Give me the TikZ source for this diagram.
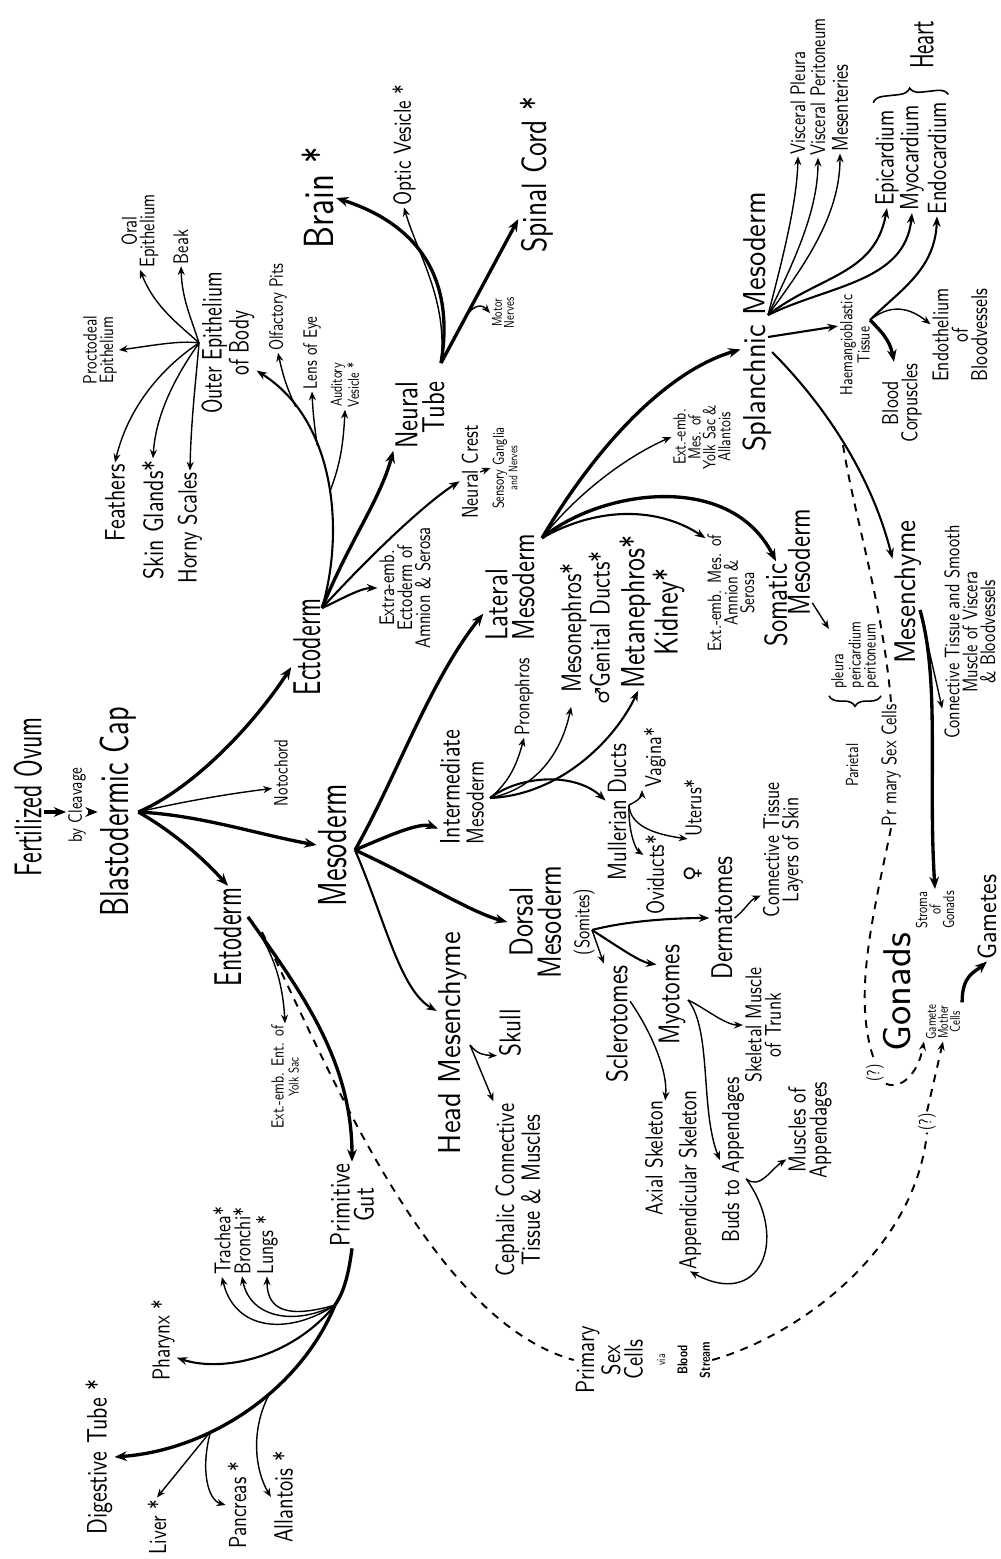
\documentclass[tikz,border=0pt]{standalone}
\usepackage{fontspec}
\setmainfont{lmsans10-regular.otf}[BoldFont=lmsans10-bold.otf,FakeStretch=0.78]
\newfontfamily\sA{lmsans10-regular.otf}[BoldFont=lmsans10-bold.otf,FakeStretch=0.62]
\newfontfamily\sB{lmsans10-regular.otf}[BoldFont=lmsans10-bold.otf,FakeStretch=0.7]
\newfontfamily\sC{lmsans10-regular.otf}[BoldFont=lmsans10-bold.otf,FakeStretch=0.9]
\newfontfamily\sD{lmsans10-regular.otf}[BoldFont=lmsans10-bold.otf,FakeStretch=1.0]
\newfontfamily\symf{DejaVu Sans}
\usetikzlibrary{arrows.meta}
\usetikzlibrary{decorations.pathreplacing}
\newcommand{\fz}[1]{\fontsize{#1}{\fpeval{0.85*#1}}\selectfont}

\begin{document}
\begin{tikzpicture}[x=0.02cm,y=-0.02cm,
		lab/.style={rotate=90,inner sep=1pt,align=center},
		thk/.style={line width=1.9pt,-{Stealth[length=7pt,width=5.5pt]}},
		med/.style={line width=1.2pt,-{Stealth[length=6pt,width=4.5pt]}},
		thn/.style={line width=0.8pt,-{Stealth[length=5pt,width=4pt]}},
		dsh/.style={line width=1.1pt,dash pattern=on 4.5pt off 4pt},
		brc/.style={line width=0.9pt,decorate,decoration={brace,amplitude=6pt}}]
	\useasboundingbox (0,0) rectangle (1001,1559);
	\fill[white] (0,0) rectangle (1001,1559);

	\node[lab,font=\sA\fz{22}] (fo) at (28,797) {Fertilized Ovum};
	\node[lab,font=\fz{11}] (cleav) at (77,805) {by Cleavage};
	\node[lab,font=\sB\fz{23}] (bc) at (118,812) {Blastodermic Cap};
	\node[lab,font=\sA\fz{22}] (ecto) at (307,647) {Ectoderm};
	\node[lab,font=\sB\fz{23}] (meso) at (333,845) {Mesoderm};
	\node[lab,font=\sA\fz{22}] (endo) at (228,937) {Entoderm};
	\node[lab,font=\fz{11}] (noto) at (281,773) {Notochord};

	\node[lab,font=\sB\fz{16}] (outer) at (228,343) {Outer Epithelium\\of Body};
	\node[lab,font=\fz{11}] (procto) at (100,350) {Proctodeal\\Epithelium};
	\node[lab,font=\fz{12}] (oral) at (140,231) {Oral\\Epithelium};
	\node[lab,font=\fz{12}] (beak) at (181,247) {Beak};
	\node[lab,font=\fz{16}] (feath) at (115,503) {Feathers};
	\node[lab,font=\fz{16}] (skin) at (153,520) {Skin Glands*};
	\node[lab,font=\fz{15}] (horny) at (190,528) {Horny Scales};
	\node[lab,font=\fz{11}] (olf) at (278,307) {Olfactory Pits};
	\node[lab,font=\fz{11}] (lens) at (312,353) {Lens of Eye};
	\node[lab,font=\fz{9}] (audi) at (345,385) {Auditory\\Vesicle *};
	\node[lab,align=right,font=\fz{18}] (ntube) at (420,415) {Neural\\Tube};
	\node[lab,font=\fz{24}] (brain) at (318,198) {Brain *};
	\node[lab,font=\fz{14}] (optic) at (404,145) {Optic Vesicle *};
	\node[lab,font=\fz{20}] (spinal) at (537,175) {Spinal Cord *};
	\node[lab,font=\fz{8}] (motor) at (503,313) {Motor\\Nerves};
	\node[lab,font=\fz{13}] (ncrest) at (470,472) {Neural Crest};
	\node[lab,font=\fz{9}] (sens) at (505,468) {Sensory Ganglia\\{\fz{7}and Nerves}};
	\node[lab,font=\fz{12}] (extecto) at (405,588) {Extra-emb.\\Ectoderm of\\Amnion \& Serosa};

	\node[lab,font=\fz{10}] (extent) at (285,1077) {Ext.-emb. Ent. of\\{\fz{8}Yolk Sac}};
	\node[lab,font=\fz{16}] (pgut) at (352,1205) {Primitive\\Gut};
	\node[lab,font=\fz{13}] (trach) at (222,1241) {Trachea*};
	\node[lab,font=\fz{13}] (bronch) at (242,1241) {Bronchi*};
	\node[lab,font=\fz{13}] (lungs) at (267,1245) {Lungs *};
	\node[lab,font=\fz{14}] (phar) at (163,1340) {Pharynx *};
	\node[lab,font=\fz{16}] (dig) at (99,1457) {Digestive Tube *};
	\node[lab,font=\fz{14}] (liver) at (157,1527) {Liver *};
	\node[lab,font=\fz{14}] (panc) at (237,1505) {Pancreas *};
	\node[lab,font=\fz{15}] (allan) at (283,1497) {Allantois *};

	\node[lab,align=left,font=\fz{18}] (lat) at (510,587) {Lateral\\Mesoderm};
	\node[lab,align=left,font=\fz{16}] (inter) at (462,787) {Intermediate\\{\fz{14}Mesoderm}};
	\node[lab,font=\fz{19}] (dors) at (552,922) {Dorsal\\Mesoderm\\{\fz{12}(Somites)}};
	\node[lab,font=\sC\fz{18}] (head) at (453,1043) {Head Mesenchyme};
	\node[lab,font=\fz{17}] (skull) at (510,1033) {Skull};
	\node[lab,font=\fz{15}] (ceph) at (518,1190) {Cephalic Connective\\Tissue \& Muscles};

	\node[lab,font=\fz{12}] (pron) at (524,697) {Pronephros};
	\node[lab,font=\fz{16}] (mesoneph) at (585,628) {Mesonephros*\\{\symf\fz{11}♂}Genital Ducts*};
	\node[lab,font=\fz{19}] (metaneph) at (652,612) {Metanephros*\\Kidney*};
	\node[lab,font=\fz{15}] (mull) at (617,812) {Mullerian Ducts};
	\node[lab,font=\fz{13}] (vag) at (655,758) {Vagina*};
	\node[lab,font=\fz{13}] (uter) at (693,808) {Uterus*};
	\node[lab,font=\fz{14}] (ovi) at (655,875) {Oviducts*};
	\node[lab,font=\fz{12}] (fem) at (693,874) {\symf ♀};

	\node[lab,font=\fz{17}] (scler) at (617,1024) {Sclerotomes};
	\node[lab,font=\fz{17}] (myo) at (672,995) {Myotomes};
	\node[lab,font=\fz{17}] (derm) at (722,918) {Dermatomes};
	\node[lab,font=\fz{13}] (ctskin) at (783,850) {Connective Tissue\\Layers of Skin};
	\node[lab,font=\fz{14}] (axial) at (654,1158) {Axial Skeleton};
	\node[lab,font=\fz{14}] (appsk) at (690,1180) {Appendicular Skeleton};
	\node[lab,font=\fz{13}] (skmus) at (763,1025) {Skeletal Muscle\\of Trunk};
	\node[lab,font=\fz{14}] (buds) at (733,1160) {Buds to Appendages};
	\node[lab,font=\fz{14}] (musapp) at (810,1130) {Muscles of\\Appendages};

	\node[lab,font=\sC\fz{18}] (splan) at (757,322) {Splanchnic Mesoderm};
	\node[lab,font=\fz{10}] (yolk) at (702,437) {Ext.-emb.\\Mes. of\\Yolk Sac \&\\Allantois};
	\node[lab,font=\fz{11}] (amn) at (731,593) {Ext.-emb. Mes. of\\Amnion \&\\Serosa};
	\node[lab,font=\fz{18}] (soma) at (776,605) {Somatic};
	\node[lab,font=\fz{18}] (somb) at (799,562) {Mesoderm};
	\node[lab,font=\fz{12}] (vpl) at (798,103) {Visceral Pleura};
	\node[lab,font=\fz{12}] (vper) at (818,87) {Visceral Peritoneum};
	\node[lab,font=\fz{13}] (mesent) at (840,108) {Mesenteries};
	\node[lab,font=\fz{15}] (epi) at (887,158) {Epicardium};
	\node[lab,font=\fz{15}] (myoc) at (912,158) {Myocardium};
	\node[lab,font=\fz{15}] (endoc) at (937,158) {Endocardium};
	\node[lab,font=\sA\fz{19}] (heart) at (922,45) {Heart};
	\node[lab,font=\fz{10}] (haem) at (855,345) {Haemangioblastic\\Tissue};
	\node[lab,font=\fz{13}] (bloodc) at (902,403) {Blood\\Corpuscles};
	\node[lab,font=\fz{13}] (endoth) at (960,335) {Endothelium\\of\\Bloodvessels};
	\node[lab,font=\sC\fz{17}] (mesench) at (908,592) {Mesenchyme};
	\node[lab,font=\fz{12}] (ctsmooth) at (970,632) {Connective Tissue and Smooth\\Muscle of Viscera\\\& Bloodvessels};
	\node[lab,align=left,font=\fz{10}] (pleura) at (855,655) {pleura\\pericardium\\peritoneum};
	\node[lab,font=\fz{10}] (pariet) at (852,765) {Parietal};
	\node[lab,font=\fz{12}] (psc) at (891,765) {Pr mary Sex Cells};
	\node[lab,font=\sD\fz{22}] (gonads) at (897,992) {Gonads};
	\node[lab,font=\fz{9}] (stroma) at (935,910) {Stroma\\of\\Gonads};
	\node[lab,font=\fz{8}] (gmc) at (943,1022) {Gamete\\Mother\\Cells};
	\node[lab,font=\sC\fz{15}] (gametes) at (987,917) {Gametes};
	\node[lab,font=\fz{10}] (q1) at (875,1073) {(?)};
	\node[lab,font=\fz{10}] (q2) at (927,1122) {(?)};
	\node[lab,font=\fz{15}] (prim) at (643,1360) {Primary\\Sex\\Cells\\{\fz{7}via}\\{\fz{8}\bfseries Blood}\\{\fz{8}\bfseries Stream}};

	\coordinate (ecto-o) at (322,608);
	\coordinate (endo-o) at (248,917);
	\coordinate (endo-d) at (262,932);
	\coordinate (meso-o) at (355,850);
	\coordinate (outer-o) at (199,343);
	\coordinate (ntube-o) at (441,363);
	\coordinate (head-o) at (470,1045);
	\coordinate (pg-o) at (335,1305);
	\coordinate (lat-o) at (542,538);
	\coordinate (int-o) at (490,798);
	\coordinate (mull-o) at (629,805);
	\coordinate (dors-o) at (592,930);
	\coordinate (myo-o) at (688,1000);
	\coordinate (spl-o) at (768,315);
	\coordinate (spl-h) at (768,337);
	\coordinate (spl-m) at (772,352);
	\coordinate (haem-o) at (870,320);
	\coordinate (mes-o) at (920,610);
	\coordinate (psc-top) at (843,445);

	\draw[thk] (fo.south |- bc.north) -- (cleav.north |- bc.north);
	\draw[thk] (cleav.south |- bc.north) -- (bc.north);
	\draw[thk] (bc.south) .. controls (190,790) and (250,730) .. (ecto.142);
	\draw[thn] (bc.south) .. controls (190,800) and (235,793) .. (noto.150);
	\draw[thk] (bc.south) .. controls (200,815) and (260,835) .. (meso.north);
	\draw[thk] (bc.south) .. controls (170,830) and (200,855) .. (endo.east);

	\draw[med] (ecto-o) .. controls (345,530) and (335,420) .. (outer.226) coordinate[pos=0.45] (e-aud) coordinate[pos=0.63] (e-lens) coordinate[pos=0.8] (e-olf);
	\draw[thn] (e-aud) .. controls (338,470) and (343,452) .. (audi.west);
	\draw[thn] (e-lens) .. controls (315,430) and (313,415) .. (lens.west);
	\draw[thn] (e-olf) .. controls (288,390) and (284,380) .. (olf.west);
	\draw[thk] (ecto-o) .. controls (350,540) and (380,500) .. (ntube.north west);
	\draw[med] (ecto-o) .. controls (380,545) and (430,500) .. (ncrest.132);
	\draw[med] (ecto-o) .. controls (340,600) and (360,588) .. (extecto.north);
	\draw[thn] (ncrest.south) -- (sens.north);

	\draw[thn] (outer-o) .. controls (180,340) and (150,346) .. (procto.south);
	\draw[thn] (outer-o) .. controls (180,325) and (155,308) .. (oral.west);
	\draw[thn] (outer-o) .. controls (192,320) and (182,300) .. (beak.west);
	\draw[thn] (outer-o) .. controls (170,362) and (130,400) .. (feath.east);
	\draw[thn] (outer-o) .. controls (180,370) and (156,410) .. (skin.east);
	\draw[thn] (outer-o) .. controls (196,380) and (191,420) .. (horny.east);

	\draw[thk] (ntube-o) .. controls (455,280) and (420,225) .. (brain.south);
	\draw[thn] (ntube-o) .. controls (448,300) and (418,255) .. (optic.west);
	\draw[thk] (ntube-o) -- (spinal.157) coordinate[pos=0.3] (n-mot);
	\draw[thn] (n-mot) .. controls (470,308) and (480,302) .. (motor.north);

	\draw[thn] (endo-o) .. controls (265,940) and (282,968) .. (extent.east);
	\draw[thk] (endo-o) .. controls (300,990) and (352,1060) .. (pgut.east);
	\draw[dsh] (endo-d) .. controls (330,1070) and (430,1320) .. (prim.north);

	\draw[line width=1.9pt] (pgut.west) .. controls (348,1280) and (342,1295) .. (pg-o);
	\draw[thn] (pg-o) .. controls (290,1335) and (235,1332) .. (trach.west);
	\draw[thn] (pg-o) .. controls (295,1326) and (250,1318) .. (bronch.west);
	\draw[thn] (pg-o) .. controls (290,1318) and (267,1312) .. (lungs.west);
	\draw[med] (pg-o) .. controls (290,1360) and (220,1372) .. (phar.218);
	\draw[thk] (pg-o) .. controls (300,1390) and (210,1450) .. (dig.south) coordinate[pos=0.4] (d-all) coordinate[pos=0.65] (d-liv);
	\draw[thn] (d-liv) -- (liver.east);
	\draw[thn] (d-liv) .. controls (200,1470) and (208,1500) .. (panc.north);
	\draw[thn] (d-all) .. controls (250,1430) and (255,1470) .. (allan.north);

	\draw[thk] (meso-o) .. controls (395,780) and (430,680) .. (lat.135);
	\draw[thk] (meso-o) .. controls (390,835) and (420,822) .. (inter.150);
	\draw[thk] (meso-o) .. controls (420,880) and (470,912) .. (dors.north);
	\draw[med] (meso-o) .. controls (385,920) and (400,990) .. (head.27);
	\draw[thn] (head-o) .. controls (478,1055) and (485,1055) .. (skull.150);
	\draw[thn] (head-o) -- (ceph.north east);

	\draw[thk] (lat-o) .. controls (600,440) and (670,370) .. (splan.149);
	\draw[thn] (lat-o) .. controls (580,490) and (630,455) .. (yolk.north);
	\draw[med] (lat-o) .. controls (600,505) and (660,508) .. (amn.25);
	\draw[thk] (lat-o) .. controls (600,490) and (730,470) .. (soma.east);

	\draw[thn] (int-o) .. controls (505,785) and (515,772) .. (pron.west);
	\draw[thn] (int-o) .. controls (530,790) and (560,760) .. (mesoneph.170);
	\draw[med] (int-o) .. controls (560,795) and (615,740) .. (metaneph.170);
	\draw[med] (int-o) .. controls (520,775) and (575,772) .. (mull.45);
	\draw[thn] (mull-o) .. controls (640,800) and (642,795) .. (vag.north west);
	\draw[thn] (mull-o) .. controls (630,828) and (660,835) .. (uter.170);
	\draw[thn] (mull-o) .. controls (628,832) and (636,850) .. (ovi.30);

	\draw[med] (dors-o) .. controls (630,920) and (680,918) .. (derm.north);
	\draw[med] (dors-o) .. controls (620,948) and (640,962) .. (myo.27);
	\draw[thn] (dors-o) -- (scler.north east);
	\draw[thn] (scler.-30) .. controls (650,1030) and (668,1070) .. (axial.-11);
	\draw[thn] (myo-o) .. controls (705,1008) and (725,1025) .. (skmus.north);
	\draw[thn] (myo-o) .. controls (712,1030) and (700,1110) .. (buds.north);
	\draw[thn] (derm.south) .. controls (745,910) and (750,900) .. (ctskin.154);
	\draw[thn] (buds.215) .. controls (760,1190) and (770,1170) .. (musapp.141);
	\draw[thn] (buds.215) .. controls (790,1240) and (760,1310) .. (appsk.west);

	\draw[thn] (spl-o) .. controls (785,250) and (797,200) .. (vpl.west);
	\draw[thn] (spl-o) .. controls (795,260) and (818,210) .. (vper.west);
	\draw[thn] (spl-o) .. controls (805,265) and (840,215) .. (mesent.west);
	\draw[med] (spl-o) .. controls (820,275) and (875,275) .. (epi.west);
	\draw[med] (spl-o) .. controls (830,285) and (905,282) .. (myoc.west);
	\draw[med] (spl-h) -- (haem.42);
	\draw[med] (spl-m) .. controls (820,400) and (870,470) .. (mesench.25);
	\draw[med] (haem-o) .. controls (900,290) and (935,270) .. (endoc.west);
	\draw[thn] (haem-o) .. controls (895,300) and (915,312) .. (endoth.70);
	\draw[thk] (haem-o) .. controls (880,330) and (890,340) .. (bloodc.11);
	\draw[thn] (mes-o) -- (ctsmooth.160);
	\draw[thk] (mes-o) .. controls (940,680) and (928,780) .. (stroma.east);
	\draw[thk] (gmc.south east) .. controls (962,975) and (975,972) .. (gametes.west);
	\draw[thn] (somb.198) -- (pleura.45);

	\draw[brc] ([yshift=-3pt]pleura.south west) -- ([yshift=-3pt]pleura.north west);
	\draw[brc] ([yshift=3pt]epi.north east) -- ([yshift=3pt]endoc.south east);

	\draw[dsh] (psc-top) .. controls (855,520) and (882,600) .. (psc.east);
	\draw[dsh] (psc.west) .. controls (872,920) and (852,1000) .. (q1.east);
	\draw[dsh,-{Stealth[length=5pt,width=4pt]}] (q1.south west) .. controls (900,1090) and (918,1075) .. (gmc.north west);
	\draw[dsh] (prim.south) .. controls (800,1335) and (915,1250) .. (q2.west);
	\draw[dsh,-{Stealth[length=5pt,width=4pt]}] (q2.east) -- (gmc.west);
\end{tikzpicture}
\end{document}
